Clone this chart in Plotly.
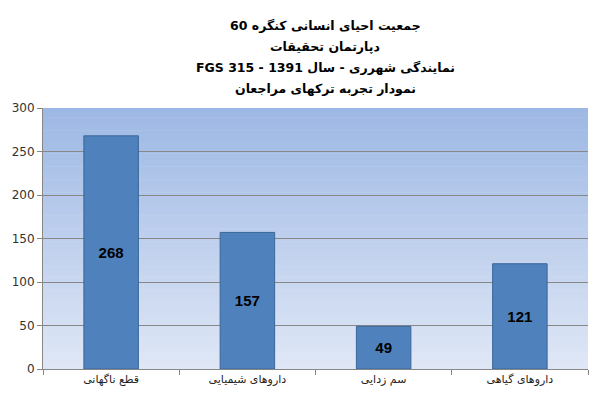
import plotly.graph_objects as go

categories = ["قطع ناگهانی", "داروهای شیمیایی", "سم زدایی", "داروهای گیاهی"]
values = [268, 157, 49, 121]
title_lines = [
    "جمعیت احیای انسانی کنگره 60",
    "دپارتمان تحقیقات",
    "نمایندگی شهرری - سال 1391 - FGS 315",
    "نمودار تجربه ترکهای مراجعان",
]
y_ticks = [0, 50, 100, 150, 200, 250, 300]

W, H = 600, 399
ML, MR, MT, MB = 40, 12, 108, 30
plot_h = H - MT - MB

fig = go.Figure()
fig.add_trace(go.Bar(
    x=categories, y=values,
    text=[str(v) for v in values],
    textposition="inside", insidetextanchor="middle",
    textfont=dict(family="Liberation Sans, Arial", size=15, color="black", weight="bold"),
    marker=dict(color="#4f81bd", line=dict(color="#3a6699", width=1)),
    width=0.4,
))

# gradient background
n = 80
top = (157, 184, 228)
bot = (223, 231, 246)
shapes = []
for i in range(n):
    t = i / (n - 1)
    c = tuple(round(bot[k] + (top[k] - bot[k]) * t) for k in range(3))
    shapes.append(dict(type="rect", xref="x domain", yref="y domain",
                       x0=0, x1=1, y0=i / n, y1=min(1, (i + 1) / n + 0.002),
                       fillcolor="rgb(%d,%d,%d)" % c, line=dict(width=0), layer="below"))

# title lines as annotations (pixel centres converted to paper coords)
line_px = [25, 46, 67, 88]
x_center_px = 324
annotations = []
for txt, ypx in zip(title_lines, line_px):
    annotations.append(dict(
        text="\u202B" + txt + "\u202C", showarrow=False,
        xref="paper", yref="paper",
        x=(x_center_px - ML) / (W - ML - MR), y=(H - MB - ypx) / plot_h,
        xanchor="center", yanchor="middle",
        font=dict(family="DejaVu Sans", size=12.5, color="black", weight="bold"),
    ))

fig.update_layout(
    width=W, height=H,
    margin=dict(l=ML, r=MR, t=MT, b=MB),
    paper_bgcolor="white", plot_bgcolor="white",
    shapes=shapes,
    annotations=annotations,
    showlegend=False,
    bargap=0.6,
)
fig.update_yaxes(range=[0, 300], tickvals=y_ticks, showgrid=True, gridcolor="#878787", gridwidth=1,
                 showline=True, linecolor="#878787", ticks="outside", ticklen=5, tickcolor="#878787",
                 tickfont=dict(family="DejaVu Sans", size=12, color="#333333"), zeroline=False)
fig.update_xaxes(showline=True, linecolor="#878787", ticks="outside", ticklen=5, tickcolor="#878787",
                 tickson="boundaries", tickfont=dict(family="DejaVu Sans", size=11, color="#222222"))

fig.write_html("out.html")
